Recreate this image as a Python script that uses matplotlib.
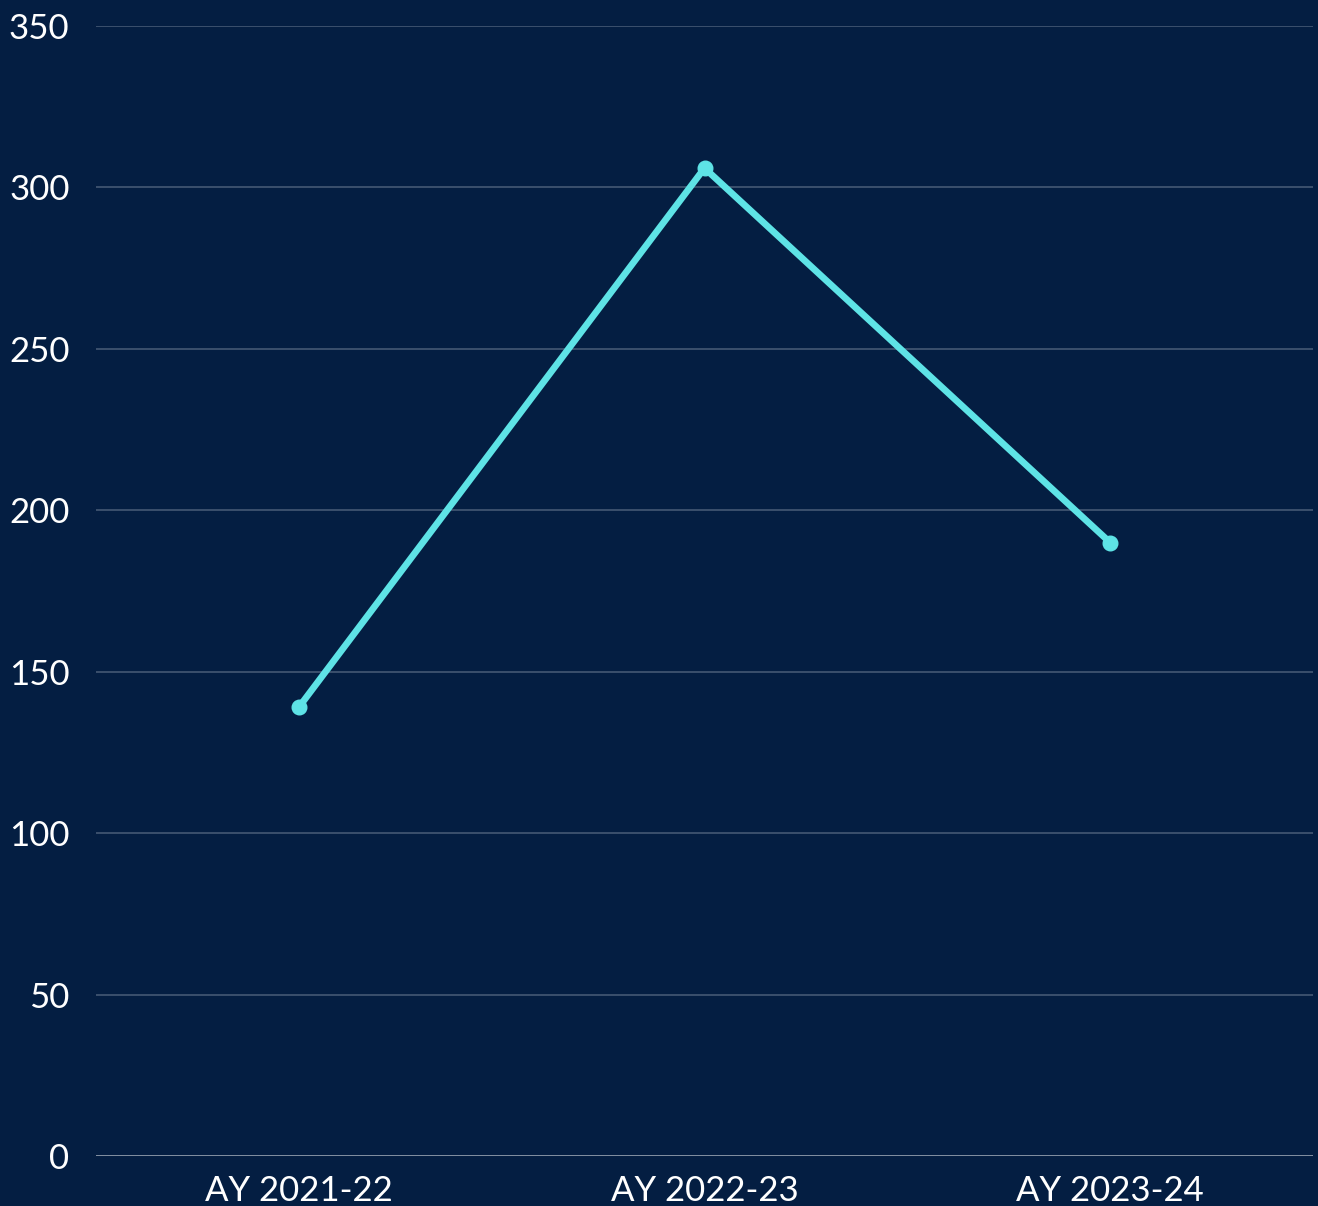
import matplotlib
matplotlib.use("Agg")
from matplotlib import pyplot as plt

# data
years = ["AY 2021-22", "AY 2022-23", "AY 2023-24"]
counts = [139, 306, 190]
y_ticks = [0, 50, 100, 150, 200, 250, 300, 350]

bg = "#041e42"
line_col = "#5ee3e6"
grid_col = "#4a5d78"

plt.rcParams['font.family'] = ['Lato', 'DejaVu Sans']

W, H = 1318, 1206
fig = plt.figure(figsize=(W / 100, H / 100), dpi=100)
fig.set_facecolor(bg)
ax = fig.add_axes([96 / W, 1 - 1156 / H, (1313 - 96) / W, (1156 - 26) / H])
ax.set_facecolor(bg)

x = list(range(len(years)))
ax.plot(x, counts, color=line_col, linewidth=4.8, marker="o", markersize=10.5,
        solid_joinstyle="miter", zorder=3)

ax.set_xlim(-0.5, len(years) - 0.5)
ax.set_ylim(0, 350)
ax.set_yticks(y_ticks)
ax.set_xticks(x)
ax.set_xticklabels(years)

for t in y_ticks[1:]:
    ax.axhline(t, color=grid_col, linewidth=1.1, zorder=1)
ax.axhline(0, color="#9aa4b2", linewidth=1.2, zorder=2)

for s in ax.spines.values():
    s.set_visible(False)
ax.tick_params(axis="both", length=0, colors="white", labelsize=25)
ax.tick_params(axis="y", pad=19)
ax.tick_params(axis="x", pad=14)

fig.savefig("out.png", dpi=100, facecolor=bg)
